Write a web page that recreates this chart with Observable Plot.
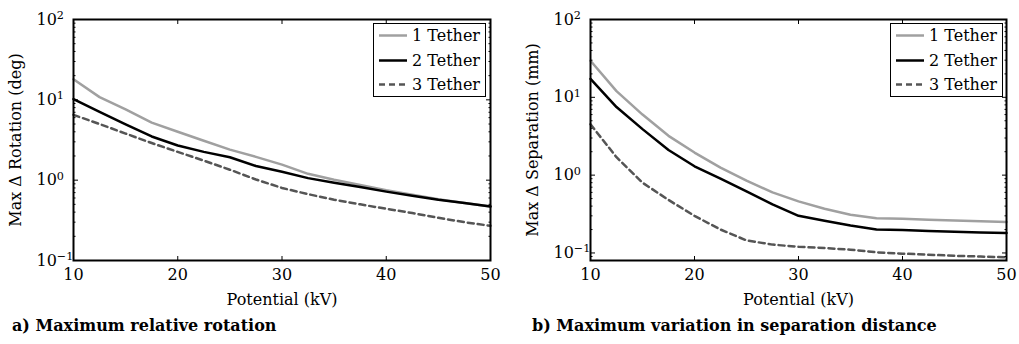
<!DOCTYPE html>
<html><head><meta charset="utf-8">
<script src="https://cdn.jsdelivr.net/npm/d3@7"></script>
<script src="https://cdn.jsdelivr.net/npm/@observablehq/plot@0.6"></script>
<style>
body{margin:0;background:#fff;}
</style></head><body>
<div id="fig" style="position:relative;width:1019px;height:344px;background:#fff;overflow:hidden;font-family:'DejaVu Serif'"></div>
<script>
// Data
const potential = [10,12.5,15,17.5,20,22.5,25,27.5,30,32.5,35,37.5,40,42.5,45,47.5,50];
const seriesNames = ["1 Tether","2 Tether","3 Tether"];
const rotation1 = [18,10.8,7.6,5.2,4.0,3.1,2.4,1.95,1.56,1.2,1.01,0.87,0.75,0.66,0.58,0.52,0.47];
const rotation2 = [10.2,7.1,4.96,3.5,2.7,2.25,1.93,1.5,1.27,1.06,0.93,0.82,0.72,0.64,0.57,0.52,0.47];
const rotation3 = [6.5,5.0,3.8,2.9,2.25,1.75,1.35,1.02,0.8,0.67,0.57,0.5,0.44,0.39,0.34,0.30,0.27];
const separation1 = [29.5,12,6.0,3.2,1.95,1.25,0.85,0.6,0.46,0.37,0.31,0.28,0.275,0.268,0.262,0.256,0.25];
const separation2 = [17.3,7.5,3.9,2.1,1.3,0.9,0.62,0.42,0.3,0.26,0.225,0.2,0.197,0.192,0.187,0.183,0.18];
const separation3 = [4.5,1.7,0.8,0.48,0.3,0.2,0.145,0.128,0.12,0.116,0.11,0.102,0.098,0.095,0.092,0.09,0.088];
const xTicks = [10,20,30,40,50];
const yMajor = [0.1,1,10,100];
const styles = [
  {stroke:"#a0a0a0", strokeWidth:2.5, dash:null},
  {stroke:"#000000", strokeWidth:2.5, dash:null},
  {stroke:"#555555", strokeWidth:2.5, dash:"6,4"}
];
const FF="font-family:'DejaVu Serif';";

function minorTicks(domain){
  const out=[];
  for (const d of [0.01,0.1,1,10]) for (let k=2;k<=9;k++){const v=+(d*k).toPrecision(3); if(v>=domain[0]&&v<=domain[1]) out.push(v);}
  return out;
}

function panel({left,width,marginLeft,marginRight,domain,ylabel,series}){
  const H=310;
  const data = series.map(vals => potential.map((p,i)=>({potential:p,value:vals[i]})));
  const minor = minorTicks(domain);
  const svg = Plot.plot({
    width, height:H, marginLeft, marginRight, marginTop:19, marginBottom:50,
    style:FF+"font-size:16px;color:#000;background:#fff;overflow:visible;position:absolute;top:0;left:"+left+"px;",
    x:{type:"linear",domain:[10,50]},
    y:{type:"log",domain},
    marks:[
      ...data.map((d,i)=>Plot.line(d,{x:"potential",y:"value",stroke:styles[i].stroke,strokeWidth:styles[i].strokeWidth,strokeDasharray:styles[i].dash,strokeLinejoin:"round"})),
      Plot.axisY(minor,{anchor:"left",tickSize:-2.5,tickFormat:()=>"",label:null}),
      Plot.axisY(minor,{anchor:"right",tickSize:-2.5,tickFormat:()=>"",label:null}),
      Plot.axisY(yMajor,{anchor:"left",tickSize:-5,tickFormat:()=>"",label:null}),
      Plot.axisY(yMajor,{anchor:"right",tickSize:-5,tickFormat:()=>"",label:null}),
      Plot.axisY(yMajor,{anchor:"left",tickSize:0,tickPadding:37,textAnchor:"start",fontSize:16,
        tickFormat:d=>"10^"+Math.round(Math.log10(d)),label:ylabel,labelAnchor:"center",labelOffset:64,labelArrow:"none"}),
      Plot.axisX(xTicks,{anchor:"bottom",tickSize:-4,tickFormat:()=>"",label:null}),
      Plot.axisX(xTicks,{anchor:"top",tickSize:-4,tickFormat:()=>"",label:null}),
      Plot.axisX(xTicks,{anchor:"bottom",tickSize:0,tickPadding:8,fontSize:16,label:"Potential (kV)",labelAnchor:"center",labelOffset:44,labelArrow:"none"}),
      Plot.frame({stroke:"#000",strokeWidth:2})
    ]
  });
  svg.removeAttribute("font-family");
  d3.select(svg).selectAll('g[aria-label="y-axis tick label"] text').each(function(){
    const t=this.textContent;
    if(!t.startsWith("10^")) return;
    const e=t.slice(3).replace("-","\u2212");
    this.textContent="";
    d3.select(this).append("tspan").text("10");
    d3.select(this).append("tspan").attr("dy","-0.5em").attr("font-size","0.7em").text(e);
  });
  svg.querySelectorAll("g, text, tspan").forEach(el=>el.style.setProperty("font-family","'DejaVu Serif'"));
  return svg;
}

function legend(left,top){
  const box=document.createElement("div");
  box.setAttribute("style",`position:absolute;left:${left}px;top:${top}px;width:113px;height:74px;border:1.5px solid #000;background:#fff;box-sizing:border-box;font-size:16px;${FF}`);
  seriesNames.forEach((name,i)=>{
    const s=styles[i];
    const row=document.createElement("div");
    row.setAttribute("style",`position:absolute;left:0;top:${-1+i*24.5}px;height:25px;line-height:25px;width:110px;white-space:nowrap;${FF}`);
    row.innerHTML=`<svg style="position:absolute;left:5px;top:0" width="30" height="25"><line x1="0" x2="28" y1="12.5" y2="12.5" stroke="${s.stroke}" stroke-width="${s.strokeWidth}" ${s.dash?`stroke-dasharray="${s.dash}"`:""}/></svg>`+
      `<span style="position:absolute;left:38px;top:0;${FF}">${name}</span>`;
    box.appendChild(row);
  });
  return box;
}

function caption(text,left){
  const c=document.createElement("div");
  c.setAttribute("style",`position:absolute;left:${left}px;top:316px;font-weight:bold;font-size:16px;white-space:nowrap;${FF}`);
  c.textContent=text;
  return c;
}

const fig=document.getElementById("fig");
fig.appendChild(panel({left:0,width:509,marginLeft:73,marginRight:19,domain:[0.1,100],ylabel:"Max \u0394 Rotation (deg)",series:[rotation1,rotation2,rotation3]}));
fig.appendChild(panel({left:509,width:510,marginLeft:81,marginRight:13,domain:[0.08,100],ylabel:"Max \u0394 Separation (mm)",series:[separation1,separation2,separation3]}));
fig.appendChild(legend(373,23));
fig.appendChild(legend(890,23));
fig.appendChild(caption("a) Maximum relative rotation",12));
fig.appendChild(caption("b) Maximum variation in separation distance",532));
</script>
</body></html>
